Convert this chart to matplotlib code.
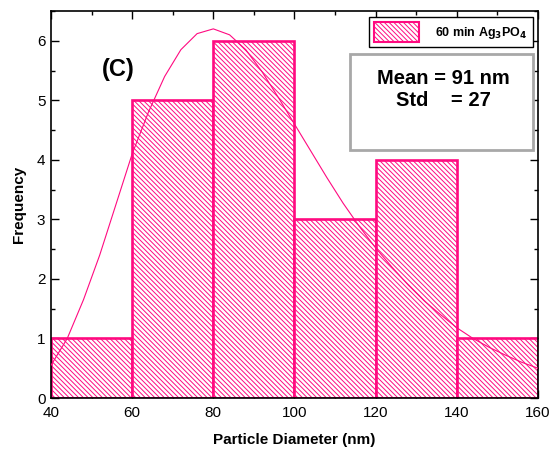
import matplotlib
matplotlib.use('Agg')
import matplotlib.pyplot as plt
from matplotlib.patches import Patch
from matplotlib.ticker import MultipleLocator

plt.rcParams['font.family'] = ['Liberation Sans', 'DejaVu Sans']
plt.rcParams['hatch.linewidth'] = 0.7

# histogram data
bin_edges = [40, 60, 80, 100, 120, 140, 160]
counts = [1, 5, 6, 3, 4, 1]

# fitted curve
fit_x = [40, 44, 48, 52, 56, 60, 64, 68, 72, 76, 80, 84, 88, 92, 96, 100,
         104, 108, 112, 116, 120, 124, 128, 132, 136, 140, 144, 148, 152, 156, 160]
fit_y = [0.55, 1.0, 1.65, 2.4, 3.25, 4.1, 4.8, 5.4, 5.85, 6.12, 6.2, 6.1, 5.85,
         5.48, 5.05, 4.6, 4.15, 3.7, 3.27, 2.88, 2.52, 2.2, 1.9, 1.63, 1.4, 1.18,
         1.0, 0.85, 0.72, 0.6, 0.5]

pink = '#ff0a80'
hatch = '\\' * 7

fig = plt.figure(figsize=(5.52, 4.53), dpi=100)
ax = fig.add_axes([0.0924, 0.1214, 0.8822, 0.8543])

widths = [bin_edges[i + 1] - bin_edges[i] for i in range(len(counts))]
ax.bar(bin_edges[:-1], counts, width=widths, align='edge', color='white',
       edgecolor=pink, linewidth=1.9, hatch=hatch, zorder=2)
ax.plot(fit_x, fit_y, color=pink, linewidth=0.8, zorder=3)

ax.set_xlim(40, 160)
ax.set_ylim(0, 6.5)
ax.xaxis.set_major_locator(MultipleLocator(20))
ax.xaxis.set_minor_locator(MultipleLocator(10))
ax.yaxis.set_major_locator(MultipleLocator(1))
ax.yaxis.set_minor_locator(MultipleLocator(0.5))
ax.tick_params(which='both', direction='in', top=True, right=True, labelsize=11)
ax.tick_params(which='major', length=6, width=1)
ax.tick_params(which='minor', length=3, width=1)
ax.tick_params(axis='x', pad=6)
ax.tick_params(axis='y', pad=4)
for s in ax.spines.values():
    s.set_linewidth(1.2)

ax.set_xlabel('Particle Diameter (nm)', fontsize=11, fontweight='bold', labelpad=9)
ax.set_ylabel('Frequency', fontsize=11, fontweight='bold', labelpad=8)

ax.text(0.138, 0.85, '(C)', transform=ax.transAxes, fontsize=17,
        fontweight='bold', ha='center', va='center')

leg_handle = Patch(facecolor='white', edgecolor=pink, hatch=hatch, linewidth=1.5)
leg = ax.legend([leg_handle], [r'60 min Ag$_\mathbf{3}$PO$_\mathbf{4}$'],
                loc='upper right', bbox_to_anchor=(0.994, 0.99), fancybox=False,
                edgecolor='black', framealpha=1, handlelength=3.6, handleheight=2.0,
                handletextpad=1.3, borderpad=0.4, borderaxespad=0.2,
                prop={'size': 9, 'weight': 'bold'})
leg.get_frame().set_linewidth(1.0)

ax.text(0.805, 0.797, 'Mean = 91 nm\nStd    = 27', transform=ax.transAxes,
        fontsize=14.5, fontweight='bold', ha='center', va='center', linespacing=1.2,
        zorder=5)
box = plt.Rectangle((0.614, 0.64), 0.375, 0.25, transform=ax.transAxes,
                    facecolor='white', edgecolor='#a8a8a8', linewidth=2, zorder=4)
ax.add_patch(box)

fig.savefig('out.png', dpi=100)
